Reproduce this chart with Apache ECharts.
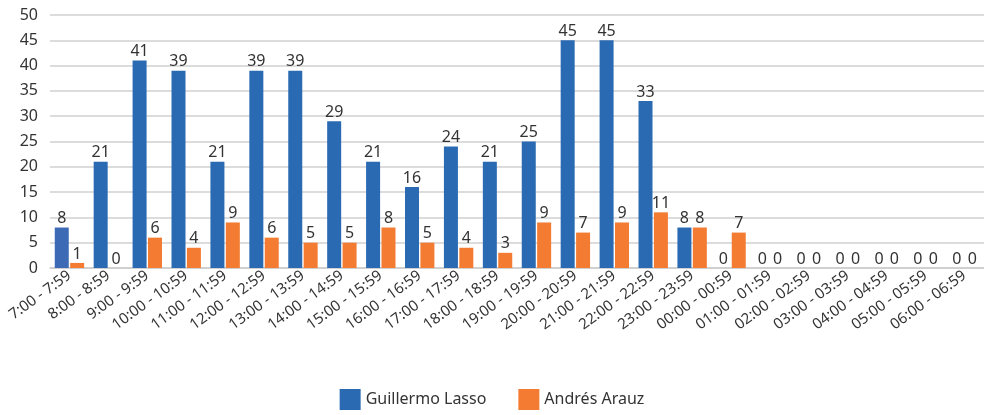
<!DOCTYPE html>
<html>
<head>
<meta charset="utf-8">
<script src="https://cdn.jsdelivr.net/npm/echarts@6/dist/echarts.min.js"></script>
<style>
  html, body { margin: 0; padding: 0; background: #fff; }
  #chart { width: 984px; height: 415px; }
</style>
</head>
<body>
<div id="chart"></div>
<script>
// Franjas horarias
const hours = [
  '7:00 - 7:59', '8:00 - 8:59', '9:00 - 9:59', '10:00 - 10:59', '11:00 - 11:59',
  '12:00 - 12:59', '13:00 - 13:59', '14:00 - 14:59', '15:00 - 15:59', '16:00 - 16:59',
  '17:00 - 17:59', '18:00 - 18:59', '19:00 - 19:59', '20:00 - 20:59', '21:00 - 21:59',
  '22:00 - 22:59', '23:00 - 23:59', '00:00 - 00:59', '01:00 - 01:59', '02:00 - 02:59',
  '03:00 - 03:59', '04:00 - 04:59', '05:00 - 05:59', '06:00 - 06:59'
];

const lasso = [8, 21, 41, 39, 21, 39, 39, 29, 21, 16, 24, 21, 25, 45, 45, 33, 8, 0, 0, 0, 0, 0, 0, 0];
const arauz = [1, 0, 6, 4, 9, 6, 5, 5, 8, 5, 4, 3, 9, 7, 9, 11, 8, 7, 0, 0, 0, 0, 0, 0];

const seriesNames = ['Guillermo Lasso', 'Andrés Arauz'];
const yTicks = [0, 5, 10, 15, 20, 25, 30, 35, 40, 45, 50];

const font = 'Noto Sans';
const textColor = '#333333';

const chart = echarts.init(document.getElementById('chart'), null, { renderer: 'canvas' });

const labelStyle = {
  show: true,
  position: 'top',
  distance: 1,
  color: textColor,
  fontFamily: font,
  fontSize: 16
};

const option = {
  animation: false,
  backgroundColor: '#ffffff',
  textStyle: { fontFamily: font },
  grid: { left: 50, right: 0, top: 15, bottom: 147, containLabel: false },
  legend: {
    bottom: 0,
    left: 'center',
    itemWidth: 21,
    itemHeight: 21,
    itemGap: 32,
    icon: 'rect',
    textStyle: { color: textColor, fontFamily: font, fontSize: 16 },
    data: seriesNames
  },
  xAxis: {
    type: 'category',
    data: hours,
    axisTick: { show: false },
    axisLine: { lineStyle: { color: '#cccccc', width: 1.5 } },
    axisLabel: {
      interval: 0,
      rotate: 36,
      margin: 6,
      color: textColor,
      fontFamily: font,
      fontSize: 15
    }
  },
  yAxis: {
    type: 'value',
    min: yTicks[0],
    max: yTicks[yTicks.length - 1],
    interval: 5,
    axisLine: { show: false },
    axisTick: { show: false },
    axisLabel: { color: textColor, fontFamily: font, fontSize: 16, margin: 12 },
    splitLine: { lineStyle: { color: '#d0d0d0', width: 1.5 } }
  },
  series: [
    {
      name: seriesNames[0],
      type: 'bar',
      data: lasso.map((v, i) => i === 0 ? { value: v, itemStyle: { color: '#3d6ab5' } } : v),
      itemStyle: { color: '#2a6ab3' },
      barWidth: 14,
      barGap: '10%',
      label: labelStyle
    },
    {
      name: seriesNames[1],
      type: 'bar',
      data: arauz,
      itemStyle: { color: '#f47b32' },
      barWidth: 14,
      label: labelStyle
    }
  ]
};

chart.setOption(option);
</script>
</body>
</html>
